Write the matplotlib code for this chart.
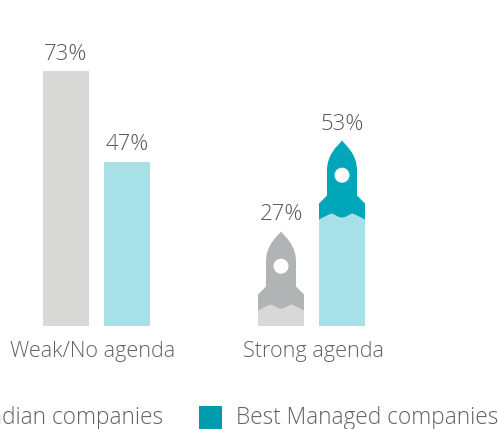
import matplotlib
matplotlib.use("Agg")
import matplotlib.pyplot as plt
from matplotlib.patches import PathPatch, Ellipse, Rectangle
from matplotlib.path import Path

plt.rcParams['font.family'] = ['Open Sans', 'DejaVu Sans']

categories = ["Weak/No agenda", "Strong agenda"]
series_names = ["Indian companies", "Best Managed companies"]
indian = [73, 27]
best = [47, 53]

W, H = 500, 429
fig = plt.figure(figsize=(W / 100, H / 100), dpi=100)
ax = fig.add_axes([0, 0, 1, 1])
PX = 3.5            # pixels per percentage point
BASE = 326          # pixel row of the zero line
ax.set_xlim(0, W)
ax.set_ylim(-(H - BASE) / PX, BASE / PX)
ax.axis("off")

group_left = [43, 258]
bar_w = 46
gap = 61
TXT = "#606164"
VAL = "#58595b"


def rocket(xc, top, color, bar_color):
    # bar beneath the rocket, its top hidden behind the rocket's flame edge
    ax.bar(xc, top - 68 / PX, width=bar_w, bottom=0, color=bar_color, linewidth=0)
    y = lambda d: top - d / PX
    verts = [
        (xc, y(0)),
        (xc + 5, y(6)), (xc + 15, y(14)), (xc + 15, y(30)),
        (xc + 15, y(55)),
        (xc + 23, y(63)),
        (xc + 23, y(79)),
        (xc + 19, y(77)), (xc + 14, y(74)), (xc + 10, y(73)),
        (xc + 7, y(74)), (xc + 4, y(77)), (xc, y(77)),
        (xc - 4, y(77)), (xc - 7, y(74)), (xc - 10, y(73)),
        (xc - 14, y(74)), (xc - 19, y(77)), (xc - 23, y(79)),
        (xc - 23, y(63)),
        (xc - 15, y(55)),
        (xc - 15, y(30)),
        (xc - 15, y(14)), (xc - 5, y(6)), (xc, y(0)),
        (xc, y(0)),
    ]
    codes = [Path.MOVETO,
             Path.CURVE4, Path.CURVE4, Path.CURVE4,
             Path.LINETO, Path.LINETO, Path.LINETO,
             Path.CURVE4, Path.CURVE4, Path.CURVE4,
             Path.CURVE4, Path.CURVE4, Path.CURVE4,
             Path.CURVE4, Path.CURVE4, Path.CURVE4,
             Path.CURVE4, Path.CURVE4, Path.CURVE4,
             Path.LINETO, Path.LINETO, Path.LINETO,
             Path.CURVE4, Path.CURVE4, Path.CURVE4,
             Path.CLOSEPOLY]
    ax.add_patch(PathPatch(Path(verts, codes), facecolor=color, edgecolor="none", zorder=3))
    ax.add_patch(Ellipse((xc, y(34.7)), 15, 15 / PX, facecolor="white", edgecolor="none", zorder=4))


x_i0 = group_left[0] + bar_w / 2
x_b0 = x_i0 + gap
ax.bar(x_i0, indian[0], width=bar_w, color="#d8d8d6", linewidth=0)
ax.bar(x_b0, best[0], width=bar_w, color="#a8e0e8", linewidth=0)

x_i1 = group_left[1] + bar_w / 2
x_b1 = x_i1 + gap
rocket(x_i1, indian[1], "#b1b4b5", "#d8d8d6")
rocket(x_b1, best[1], "#00a6b9", "#a8e0e8")

for x, v in [(x_i0, indian[0]), (x_b0, best[0]), (x_i1, indian[1]), (x_b1, best[1])]:
    ax.text(x, v + 11 / PX, f"{v}%", ha="center", va="baseline", fontsize=16,
            color=VAL, fontweight=300)

for x, c in zip([93, 313.5], categories):
    ax.text(x, -(356.5 - BASE) / PX, c, ha="center", va="baseline", fontsize=15.6,
            color=TXT, fontweight=300)

ly = -(424 - BASE) / PX
ax.add_patch(Rectangle((199, -(429 - BASE) / PX), 23, 23 / PX, facecolor="#009cae", edgecolor="none"))
ax.text(163, ly, series_names[0], ha="right", va="baseline", fontsize=16.3, color=TXT, fontweight=300)
ax.text(236, ly, series_names[1], ha="left", va="baseline", fontsize=16.3, color=TXT, fontweight=300)

fig.savefig("out.png", dpi=100)
